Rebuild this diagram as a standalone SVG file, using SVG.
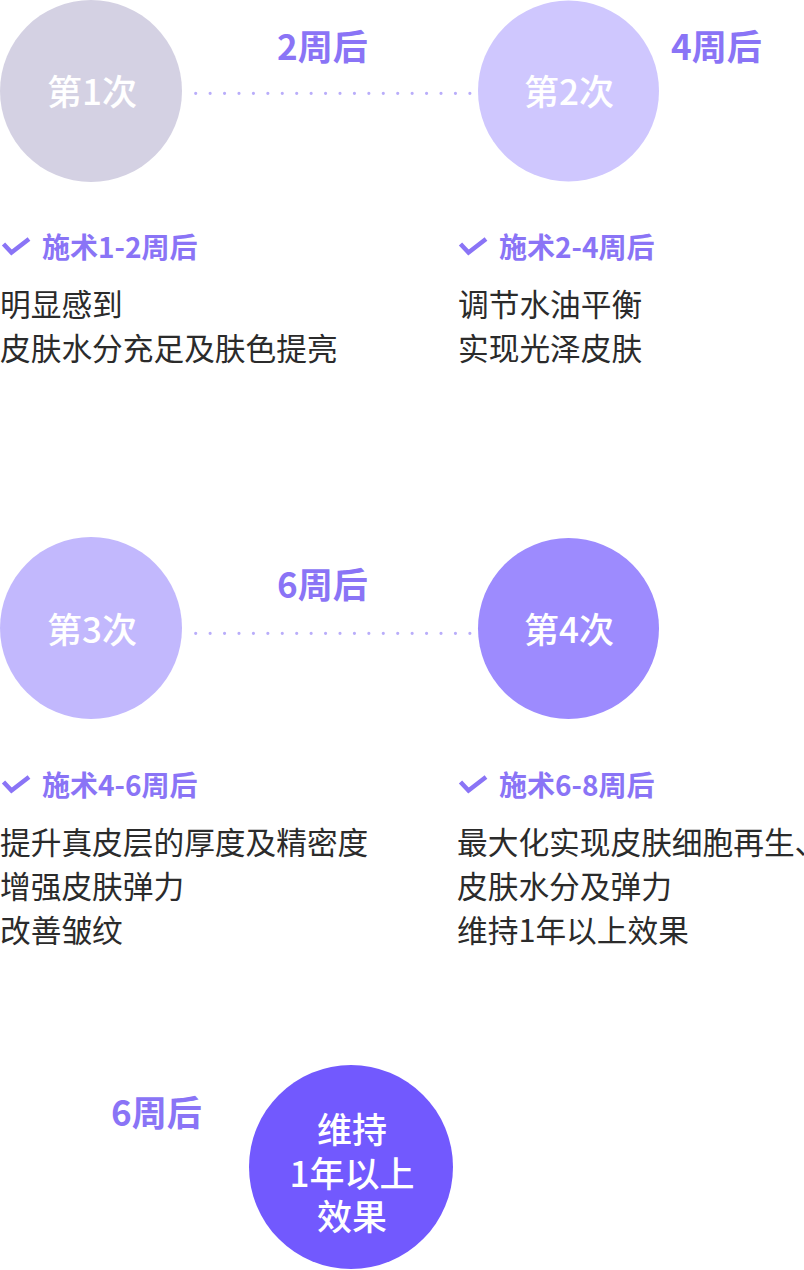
<svg xmlns="http://www.w3.org/2000/svg" width="804" height="1270" viewBox="0 0 804 1270">
<defs>
<style>
.ct{font-family:"Noto Sans CJK SC","Noto Sans",sans-serif;font-size:35px;font-weight:500;fill:#ffffff;text-anchor:middle}
.wk{font-family:"Noto Sans CJK SC","Noto Sans",sans-serif;font-size:35px;font-weight:700;fill:#8a74f6}
.lb{font-family:"Noto Sans CJK SC","Noto Sans",sans-serif;font-size:28px;font-weight:700;fill:#8a74f6}
.bd{font-family:"Noto Sans CJK SC","Noto Sans",sans-serif;font-size:30.7px;font-weight:400;fill:#2b2b2b}
.dot{stroke:#b9adfa;stroke-width:3.2;stroke-linecap:round;stroke-dasharray:0 14.43;fill:none}
.chk{stroke:#8a74f6;stroke-width:4.5;fill:none;stroke-linecap:butt;stroke-linejoin:miter}
</style>
<path id="ck" class="chk" d="M3.5,244 L11.5,252.5 L29,239"/>
</defs>
<rect width="804" height="1270" fill="#ffffff"/>
<g id="connectors">
<line class="dot" x1="195.7" y1="93.3" x2="470.5" y2="93.3"/>
<line class="dot" x1="195.7" y1="633.3" x2="470.5" y2="633.3"/>
</g>
<g id="node1">
<circle cx="91" cy="91" r="91" fill="#d4d1e3"/>
<text class="ct" x="92" y="105">第1次</text>
</g>
<g id="node2">
<circle cx="568.5" cy="91" r="90.5" fill="#cfc7fe"/>
<text class="ct" x="569" y="105">第2次</text>
</g>
<g id="node3">
<circle cx="91" cy="628" r="91" fill="#c2b8fd"/>
<text class="ct" x="92" y="643">第3次</text>
</g>
<g id="node4">
<circle cx="568.5" cy="628.5" r="90.5" fill="#9d8bfe"/>
<text class="ct" x="569" y="643">第4次</text>
</g>
<g id="node5">
<circle cx="351" cy="1167" r="102" fill="#7259fe"/>
<text class="ct" x="352" y="1143">维持</text>
<text class="ct" x="352" y="1187">1年以上</text>
<text class="ct" x="352" y="1230">效果</text>
</g>
<g id="intervals">
<text class="wk" x="277" y="60">2周后</text>
<text class="wk" x="671" y="60">4周后</text>
<text class="wk" x="277" y="598">6周后</text>
<text class="wk" x="111" y="1126">6周后</text>
</g>
<g id="desc1">
<use href="#ck"/>
<text class="lb" x="42" y="258">施术1-2周后</text>
<text class="bd" x="0" y="316">明显感到</text>
<text class="bd" x="0" y="360">皮肤水分充足及肤色提亮</text>
</g>
<g id="desc2">
<use href="#ck" x="457"/>
<text class="lb" x="499" y="258">施术2-4周后</text>
<text class="bd" x="458" y="316">调节水油平衡</text>
<text class="bd" x="458" y="360">实现光泽皮肤</text>
</g>
<g id="desc3">
<use href="#ck" y="538"/>
<text class="lb" x="42" y="796">施术4-6周后</text>
<text class="bd" x="0" y="854">提升真皮层的厚度及精密度</text>
<text class="bd" x="0" y="898">增强皮肤弹力</text>
<text class="bd" x="0" y="942">改善皱纹</text>
</g>
<g id="desc4">
<use href="#ck" x="457" y="538"/>
<text class="lb" x="499" y="796">施术6-8周后</text>
<text class="bd" x="457" y="854">最大化实现皮肤细胞再生、</text>
<text class="bd" x="457" y="898">皮肤水分及弹力</text>
<text class="bd" x="457" y="942">维持1年以上效果</text>
</g>
</svg>
